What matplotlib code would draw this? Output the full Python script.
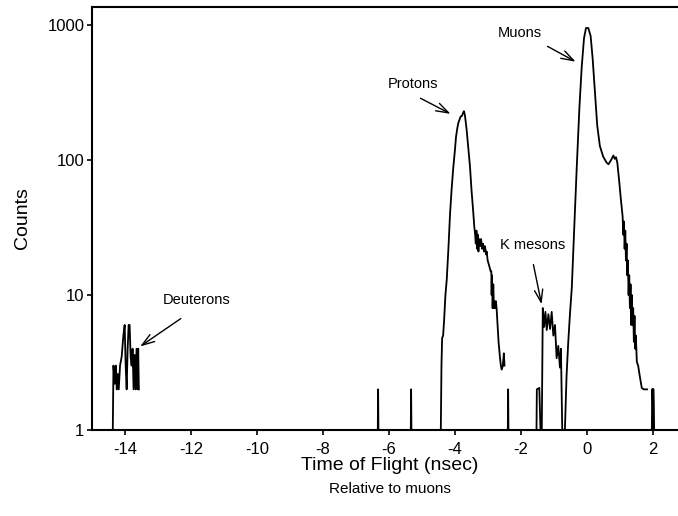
import numpy as np
import matplotlib
matplotlib.use("Agg")
import matplotlib.pyplot as plt

plt.rcParams['font.family'] = ['Liberation Sans', 'DejaVu Sans']

# ---- data (time of flight in ns relative to muons, counts) ----
deuteron_x = [-14.37, -14.35, -14.31, -14.28, -14.25, -14.22, -14.19, -14.15, -14.10,
              -14.05, -14.01, -13.98, -13.95, -13.92, -13.89, -13.86, -13.83, -13.80,
              -13.77, -13.74, -13.71, -13.68, -13.65, -13.62, -13.60, -13.58]
deuteron_y = [1, 3, 2.2, 3, 2, 2.6, 2, 3, 3.5, 5, 6, 3, 2, 4, 6, 6, 3.5, 3,
              4, 2, 3.6, 2, 4, 2, 4, 2]

proton_x = [-4.43, -4.41, -4.39, -4.36, -4.33, -4.29, -4.25, -4.20, -4.15, -4.10,
            -4.05, -4.00, -3.97, -3.93, -3.90, -3.86, -3.83, -3.79, -3.76, -3.73,
            -3.70, -3.65, -3.60, -3.545, -3.50, -3.45, -3.415, -3.39, -3.37, -3.35,
            -3.33, -3.31, -3.29, -3.27, -3.24, -3.21, -3.18, -3.15, -3.12, -3.09,
            -3.06, -3.04, -3.01, -2.98, -2.95, -2.92, -2.90, -2.89, -2.88, -2.86,
            -2.84, -2.82, -2.80, -2.78, -2.76, -2.74, -2.71, -2.68, -2.64, -2.61,
            -2.585, -2.55, -2.52, -2.50]
proton_y = [1, 3, 4.8, 5, 6.5, 10, 13, 22, 40, 62,
            89, 120, 148, 172, 188, 200, 210, 212, 222, 230,
            215, 170, 125, 89, 60, 42, 32, 28, 24, 30,
            22, 28, 21, 26, 23, 26, 22, 24, 21, 23,
            20, 21, 18, 17, 16, 15, 15, 10, 14, 8,
            12, 8, 9, 8, 9, 8, 6, 4.5, 3.5, 3,
            2.8, 3, 3.7, 3]

kaon_muon_x = [-1.53, -1.52, -1.445, -1.41, -1.37, -1.34, -1.30, -1.26, -1.22, -1.17,
               -1.12, -1.07, -1.02, -0.97, -0.92, -0.87, -0.82, -0.79, -0.75, -0.67,
               -0.62, -0.57, -0.52, -0.46, -0.39, -0.31, -0.23, -0.16, -0.09, -0.03,
               0.04, 0.11, 0.17, 0.24, 0.31, 0.39, 0.49, 0.59, 0.65, 0.73,
               0.80, 0.84, 0.88, 0.92, 0.98, 1.03, 1.05, 1.08, 1.10, 1.12,
               1.14, 1.16, 1.18, 1.20, 1.22, 1.24, 1.26, 1.28, 1.30, 1.32,
               1.34, 1.36, 1.38, 1.40, 1.42, 1.44, 1.46, 1.48, 1.51, 1.55,
               1.60, 1.66, 1.72, 1.82]
kaon_muon_y = [1, 2, 2.05, 1, 1, 8, 5.8, 7.5, 5.5, 7.2,
               5.6, 7.5, 5, 6, 3.4, 4.2, 2.9, 4, 1, 1,
               2.5, 4.4, 7, 11.4, 30, 89, 245, 490, 800, 950,
               950, 830, 570, 320, 180, 127, 106, 96, 93, 100,
               108, 102, 105, 95, 68, 50, 45, 38, 28, 35,
               22, 30, 18, 24, 14, 18, 10, 14, 8, 12,
               6, 10, 6, 8, 4.5, 7, 4, 5, 3.2, 3,
               2.5, 2.05, 2, 2]

spike_x = [-6.34, -6.33, -6.32, -5.34, -5.33, -5.32, -2.40, -2.39, -2.38,
           1.98, 1.99, 2.00, 2.01, 2.02]
spike_y = [1, 2, 1, 1, 2, 1, 1, 2, 1,
           1, 2, 2, 1.6, 1]

labels = ["Deuterons", "Protons", "K mesons", "Muons"]
label_xy = [(-11.82, 9.2), (-5.27, 365), (-1.64, 23.5), (-2.03, 872)]
arrow_tail = [(-12.24, 6.87), (-5.12, 293), (-1.64, 17.6), (-1.27, 711)]
arrow_tip = [(-13.61, 4.05), (-4.06, 215), (-1.36, 8.15), (-0.27, 523)]

xticks = [-14, -12, -10, -8, -6, -4, -2, 0, 2]
yticks = [1, 10, 100, 1000]
ytick_labels = ["1", "10", "100", "1000"]

# ---- figure ----
W, H = 678, 516
fig = plt.figure(figsize=(W / 100, H / 100), dpi=100)
ax = fig.add_axes([92 / W, 86 / H, 594 / W, 423 / H])

lw = 1.3
ax.plot(deuteron_x, deuteron_y, color='black', lw=lw)
ax.plot(proton_x, proton_y, color='black', lw=lw)
ax.plot(kaon_muon_x, kaon_muon_y, color='black', lw=lw)
for i in range(0, 9, 3):
    ax.plot(spike_x[i:i + 3], spike_y[i:i + 3], color='black', lw=lw)
ax.plot(spike_x[9:], spike_y[9:], color='black', lw=2.0)

ax.set_yscale('log')
ax.set_xlim(-15, 3)
ax.set_ylim(1, 1360)
ax.set_xticks(xticks)
ax.set_xticklabels([str(t) for t in xticks])
ax.set_yticks(yticks)
ax.set_yticklabels(ytick_labels)
ax.yaxis.set_minor_locator(matplotlib.ticker.NullLocator())
ax.tick_params(axis='both', which='major', direction='out', length=3.5, width=1.2,
               labelsize=12, colors='black')
ax.tick_params(axis='x', pad=5)
ax.tick_params(axis='y', pad=2)
for s in ['left', 'bottom', 'top']:
    ax.spines[s].set_linewidth(1.5)
ax.spines['right'].set_visible(False)

for txt, xy, tail, tip in zip(labels, label_xy, arrow_tail, arrow_tip):
    ax.text(xy[0], xy[1], txt, fontsize=10.5, ha='center', va='center')
    ax.annotate('', xy=tip, xytext=tail,
                arrowprops=dict(arrowstyle='->,head_length=0.9,head_width=0.3',
                                color='black', lw=1.0))

ax.set_ylabel('Counts', fontsize=14, labelpad=12)
fig.text(390 / W, 1 - 466 / H, 'Time of Flight (nsec)', fontsize=14,
         ha='center', va='center')
fig.text(390 / W, 1 - 489 / H, 'Relative to muons', fontsize=11,
         ha='center', va='center')

fig.savefig('out.png', dpi=100)
